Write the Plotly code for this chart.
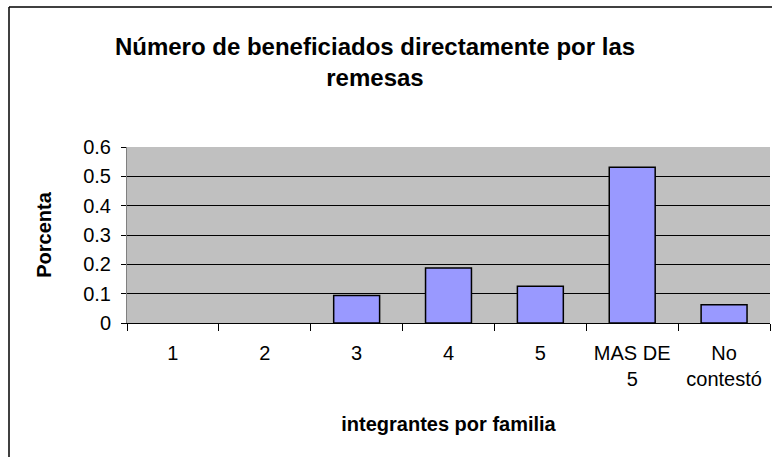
import plotly.graph_objects as go

categories = ["1", "2", "3", "4", "5", "MAS DE<br>5", "No<br>contestó"]
values = [0, 0, 0.09375, 0.1875, 0.125, 0.53125, 0.0625]
y_ticks = [0, 0.1, 0.2, 0.3, 0.4, 0.5, 0.6]
y_ticktext = ["0", "0.1", "0.2", "0.3", "0.4", "0.5", "0.6"]

W, H = 772, 457
L, R, T, B = 127, 2, 147, 134
pw, ph = W - L - R, H - T - B

def px_x(p):
    return (p - L) / pw

def px_y(p):
    return (H - B - p) / ph

FONT = "Liberation Sans, Arial, sans-serif"

fig = go.Figure(go.Bar(
    x=categories, y=values,
    marker=dict(color="#9999FF",
                line=dict(color="black", width=[1.5 if v > 0 else 0 for v in values])),
))

fig.update_layout(
    width=W, height=H,
    margin=dict(l=L, r=R, t=T, b=B),
    paper_bgcolor="white",
    plot_bgcolor="#C0C0C0",
    bargap=0.5,
    showlegend=False,
    font=dict(family=FONT, color="black"),
    title=dict(
        text="<b>Número de beneficiados directamente por las<br>remesas</b>",
        x=375 / W, xref="container", xanchor="center",
        y=1 - 55 / H, yref="container", yanchor="middle",
        font=dict(size=24, family=FONT, color="black"),
    ),
    xaxis=dict(
        type="category",
        showgrid=False,
        showline=True, linecolor="black", linewidth=1,
        ticks="outside", ticklen=7, tickcolor="black", tickwidth=1,
        tickson="boundaries",
        ticklabelstandoff=12,
        tickfont=dict(size=20),
        title=dict(text="<b>integrantes por familia</b>", font=dict(size=20), standoff=27),
    ),
    yaxis=dict(
        range=[0, 0.6],
        tickvals=y_ticks, ticktext=y_ticktext,
        showgrid=True, gridcolor="black", gridwidth=1,
        showline=True, linecolor="#808080", linewidth=1,
        ticks="outside", ticklen=5, tickcolor="black",
        tickfont=dict(size=20),
        zeroline=False,
        ticklabelstandoff=6,
        title=dict(text="<b>Porcenta</b>", font=dict(size=20), standoff=26),
    ),
    shapes=[
        dict(type="line", xref="paper", yref="paper",
             x0=px_x(9), x1=px_x(9), y0=px_y(7), y1=px_y(470),
             line=dict(color="black", width=1.5)),
        dict(type="line", xref="paper", yref="paper",
             x0=px_x(9), x1=px_x(790), y0=px_y(7), y1=px_y(7),
             line=dict(color="black", width=1.5)),
    ],
)

fig.write_html("out.html", config={"displayModeBar": False},
               post_script="document.body.style.margin='0';")
